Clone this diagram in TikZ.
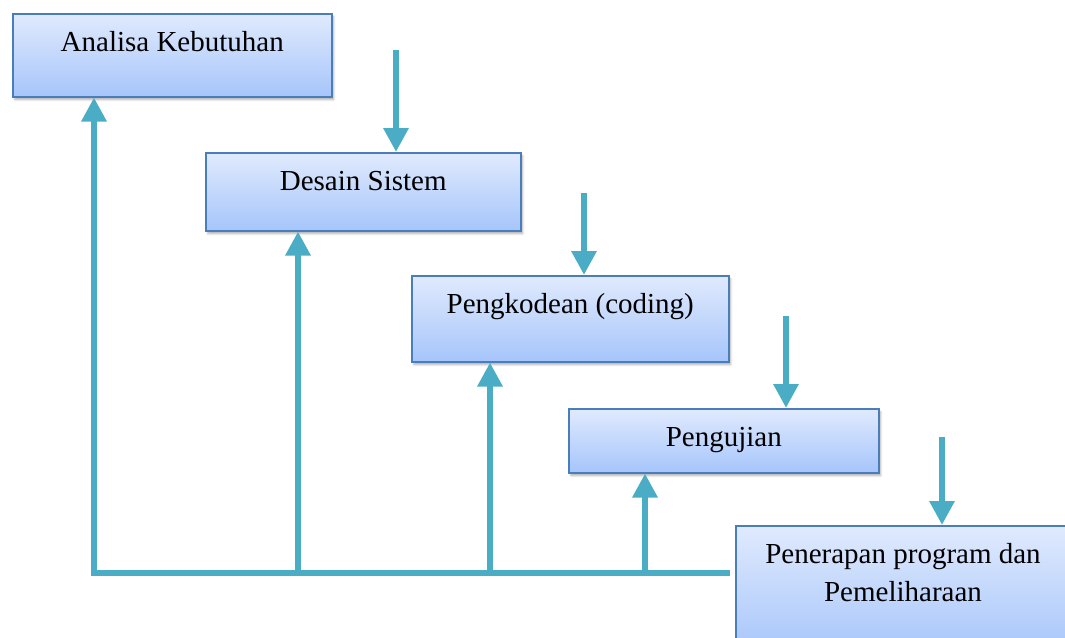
\documentclass[tikz,border=0pt]{standalone}
\usepackage{fontspec}
\setmainfont{Liberation Serif}
\usetikzlibrary{arrows.meta, shadows.blur, calc}

\definecolor{boxline}{HTML}{4A7EBB}
\definecolor{boxtop}{HTML}{E0EAFD}
\definecolor{boxbot}{HTML}{A6C5FB}
\definecolor{flow}{HTML}{4BACC6}

\tikzset{
  stage/.style={draw=boxline, line width=1.5pt, top color=boxtop, bottom color=boxbot,
    anchor=north west, inner sep=0pt,
    blur shadow={shadow xshift=2pt, shadow yshift=-3pt, shadow blur steps=6, shadow opacity=30}},
  stagetext/.style={anchor=base, inner sep=0pt, font=\fontsize{29}{38}\selectfont, align=center},
  flowline/.style={draw=flow, line width=6pt},
  flowarrow/.style={flowline, -{Triangle[width=24pt,length=24pt]}}
}

\begin{document}
\begin{tikzpicture}[x=1pt, y=-1pt]
        \useasboundingbox (0,0) rectangle (1065,637);
        \clip (0,0) rectangle (1065,637);
        \node[stage, minimum width=319pt, minimum height=83pt] (analisa) at (12,13) {};
        \node[stage, minimum width=315pt, minimum height=78pt] (desain) at (205,152) {};
        \node[stage, minimum width=317pt, minimum height=86pt] (kode) at (411,275) {};
        \node[stage, minimum width=310pt, minimum height=64pt] (uji) at (568,408) {};
        \node[stage, minimum width=340pt, minimum height=130pt] (terap) at (735,525) {};
        \node[stagetext] (analisaT) at ($(analisa.north)+(0,38)$) {Analisa Kebutuhan};
        \node[stagetext] (desainT) at ($(desain.north)+(0,38)$) {Desain Sistem};
        \node[stagetext] (kodeT) at ($(kode.north)+(0,38)$) {Pengkodean (coding)};
        \node[stagetext] (ujiT) at ($(uji.north)+(0,38)$) {Pengujian};
        \node[stagetext, anchor=north] (terapT) at ($(terap.north west)+(168,18)$) {Penerapan program dan\\Pemeliharaan};
        \coordinate (d1) at (396,50);
        \coordinate (d2) at (584,193);
        \coordinate (d3) at (786,316);
        \coordinate (d4) at (942,437);
        \draw[flowarrow] (d1) -- (desain.north -| d1);
        \draw[flowarrow] (d2) -- (kode.north -| d2);
        \draw[flowarrow] (d3) -- (uji.north -| d3);
        \draw[flowarrow] (d4) -- (terap.north -| d4);
        \coordinate (b1) at (94,573);
        \coordinate (b2) at (298,573);
        \coordinate (b3) at (490,573);
        \coordinate (b4) at (645,573);
        \draw[flowline] ($(b1)+(-3,0)$) -- ($(terap.west |- b1)+(-5,0)$);
        \draw[flowarrow] ($(b1)+(0,3)$) -- (analisa.south -| b1);
        \draw[flowarrow] (b2) -- (desain.south -| b2);
        \draw[flowarrow] (b3) -- (kode.south -| b3);
        \draw[flowarrow] (b4) -- (uji.south -| b4);
    \end{tikzpicture}
\end{document}
